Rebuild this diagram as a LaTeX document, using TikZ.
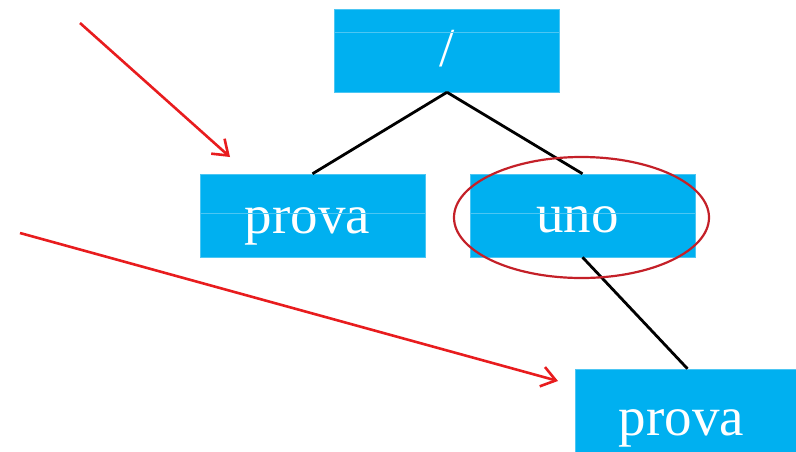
\documentclass[tikz,border=0pt]{standalone}
\usepackage{fontspec}
\setmainfont{Liberation Serif}
\usetikzlibrary{arrows.meta,shapes.geometric}
\definecolor{boxblue}{HTML}{00B0F0}
\definecolor{seamblue}{HTML}{4CC6F3}
\definecolor{ringred}{RGB}{196,32,40}
\definecolor{arrowred}{RGB}{232,28,30}
\tikzset{
  treebox/.style={fill=boxblue, draw=seamblue, line width=0.5pt, inner sep=0pt,
    minimum width=225pt, minimum height=83pt, text=white,
    font=\fontsize{55}{60}\selectfont, text depth=0pt},
  seam/.style={draw=seamblue, line width=0.8pt},
  edge/.style={draw=black, line width=2.8pt},
  ring/.style={draw=ringred, line width=2.2pt},
  pointer/.style={draw=arrowred, line width=2.6pt, -{Straight Barb[length=14pt,width=20pt,line width=2.6pt]}}
}
\begin{document}
\begin{tikzpicture}[x=1pt,y=-1pt]
\useasboundingbox (0,0) rectangle (796,451);
% boxes
\node[treebox, text height=31pt] (root) at (447,50.5) {/};
\node[treebox, text height=35pt] (left) at (312.5,215.5) {prova\kern10pt\null};
\node[treebox, text height=33pt] (uno) at (582.5,215.5) {uno\kern10pt\null};
\node[treebox, text height=49pt] (leaf) at (687.5,410.5) {prova\kern12pt\null};
% light seams
\draw[seam] (root.west |- 0,32) -- (root.east |- 0,32);
\draw[seam] (left.west |- 0,213) -- (left.east |- 0,213);
\draw[seam] (uno.west |- 0,213) -- (uno.east |- 0,213);
% edges
\draw[edge] (root.south) -- (left.north);
\draw[edge] (root.south) -- (uno.north);
\draw[edge] (uno.south) -- (leaf.north);
% ring
\node[ring, ellipse, minimum width=255pt, minimum height=121pt, inner sep=0pt] (ringnode) at (581.5,217.5) {};
% pointers
\coordinate (p1s) at (80,23);
\coordinate (p1e) at (230,157);
\coordinate (p2s) at (20,233);
\coordinate (p2e) at (558,381);
\draw[pointer] (p1s) -- (p1e);
\draw[pointer] (p2s) -- (p2e);
\end{tikzpicture}
\end{document}
